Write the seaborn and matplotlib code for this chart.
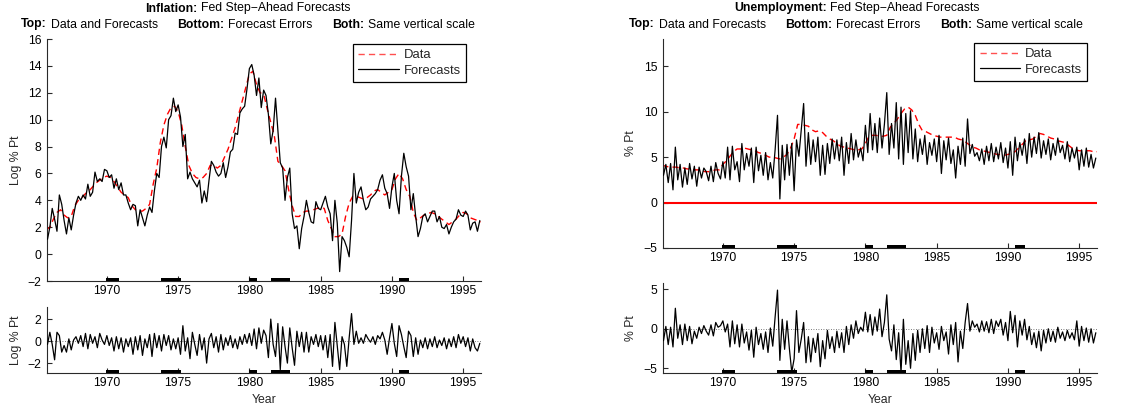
import numpy as np
import pandas as pd
import matplotlib
matplotlib.use("Agg")
import matplotlib.pyplot as plt
from matplotlib.lines import Line2D
import seaborn as sns

# ---------------- data ----------------
data_start = 1965.75          # quarterly data series
fc_start = 1965.0 + 10 / 12   # bimonthly forecasts / errors (Nov 1965)

infl_data = [1.8,
    2.0, 2.6, 3.1, 3.3,   2.9, 2.7, 2.8, 3.6,   4.0, 4.2, 4.5, 4.7,   5.0, 5.3, 5.5, 5.7,
    5.8, 5.7, 5.4, 5.0,   4.6, 4.4, 4.2, 3.6,   3.3, 3.2, 3.2, 3.4,   3.7, 5.2, 6.4, 8.3,
    9.6, 10.4, 10.9, 11.0, 10.6, 9.6, 8.0, 6.6,  6.0, 5.7, 5.6, 5.7,   6.0, 6.6, 6.6, 6.4,
    6.6, 7.2, 7.8, 8.6,   9.4, 10.4, 11.4, 12.4, 13.4, 13.6, 12.6, 12.0, 11.9, 10.8, 9.8, 8.8,
    6.9, 6.6, 6.2, 4.8,   3.6, 2.8, 2.8, 3.1,   3.2, 3.2, 3.3, 3.4,   3.5, 3.4, 2.5, 1.9,
    1.3, 1.3, 1.5, 2.8,   3.8, 4.3, 4.3, 4.2,   4.1, 4.2, 4.4, 4.7,   4.8, 4.6, 4.4, 4.6,
    4.8, 5.6, 6.0, 5.6,   4.8, 4.3, 3.1, 2.5,   2.7, 2.9, 3.0, 3.1,   3.0, 2.8, 2.6, 2.4,
    2.2, 2.4, 2.6, 2.9,   3.1, 3.0, 2.7, 2.6,   2.5, 2.4]

infl_fc = [1.1,
    2.0, 3.4, 2.6, 1.7, 4.4, 3.7,
    2.5, 1.5, 2.7, 1.8, 2.9, 3.8,
    4.3, 4.0, 4.4, 4.1, 5.2, 4.3,
    4.6, 6.1, 5.4, 5.6, 5.4, 6.3,
    6.2, 5.7, 5.9, 4.9, 5.6, 4.8,
    5.3, 4.4, 4.4, 3.8, 3.3, 3.7,
    3.6, 2.1, 3.3, 2.7, 2.1, 2.9,
    3.5, 3.1, 4.7, 6.0, 5.7, 8.0,
    8.7, 7.9, 10.0, 10.3, 11.6, 10.6,
    11.1, 10.2, 8.0, 8.9, 5.6, 6.1,
    5.6, 5.3, 5.0, 5.5, 3.8, 4.7,
    3.9, 5.5, 6.9, 6.6, 6.1, 5.8,
    6.0, 6.8, 5.7, 6.5, 7.6, 7.8,
    9.0, 8.9, 10.5, 10.8, 11.0, 12.3,
    13.8, 14.1, 13.3, 11.8, 13.1, 10.9,
    12.2, 11.8, 10.4, 8.2, 9.2, 11.6,
    9.2, 6.8, 6.4, 4.0, 5.7, 6.4,
    3.0, 1.9, 2.1, 0.4, 1.9, 2.8,
    4.0, 3.1, 2.4, 2.3, 3.9, 3.4,
    3.3, 3.8, 4.3, 3.5, 3.0, 1.0,
    4.0, 2.3, -1.3, 1.3, 1.0, 0.5,
    -0.2, 2.5, 6.0, 3.8, 4.6, 5.0,
    4.0, 3.3, 3.5, 4.1, 4.3, 4.5,
    4.8, 5.5, 5.9, 4.9, 4.5, 3.4,
    5.0, 6.0, 4.0, 3.0, 5.8, 7.5,
    6.5, 5.8, 3.3, 4.5, 2.8, 1.3,
    1.9, 2.8, 3.0, 2.4, 2.8, 3.2,
    3.2, 2.4, 2.8, 2.0, 1.9, 2.2,
    1.5, 2.0, 2.4, 2.6, 3.3, 2.9,
    2.8, 3.2, 2.9, 1.8, 2.3, 2.4,
    1.7, 2.5]

infl_err = [-0.3,
    0.8, -0.3, -1.7, 0.8, 0.5, -1.0,
    -0.4, -1.0, 0.2, -0.8, 0.1, 0.4,
    -0.2, 0.5, -0.5, 0.7, -0.7, 0.6,
    -0.2, 0.4, -0.6, 0.7, 0.1, -0.3,
    0.5, -0.4, 0.3, -0.9, 0.4, -0.7,
    0.3, -1.0, 0.2, -0.5, 0.3, -1.2,
    0.4, -0.8, 0.5, -1.3, 0.2, -0.6,
    0.6, -1.4, 0.7, -0.6, 0.5, -0.9,
    0.6, -0.4, 0.5, -0.8, 0.2, -0.7,
    0.3, -1.2, 1.4, -0.9, 0.3, -1.6,
    0.8, -0.3, -1.3, 0.6, -0.8, 0.3,
    -2.0, 0.2, 0.7, -0.6, 0.4, -1.0,
    0.6, -0.8, 0.3, -0.4, 0.5, -0.6,
    0.2, -0.7, 0.4, -0.3, 0.6, -0.2,
    0.7, -0.4, 1.1, -0.7, 1.2, -0.2,
    1.0, 0.5, -1.5, 2.0, -0.3, -1.4,
    1.6, -2.6, 1.3, -0.5, -2.0, 1.2,
    -0.6, -2.2, 0.9, -0.5, 0.8, -1.0,
    0.8, -1.0, 0.4, -0.3, 0.6, -0.5,
    0.5, -0.8, 0.5, -1.5, 0.6, -2.3,
    1.7, -0.5, -2.6, 0.4, -0.3, -2.3,
    0.3, 2.5, -0.3, 0.9, -0.2, 0.3,
    -0.2, 0.6, 0.2, -0.1, 0.4, -0.3,
    0.5, 0.2, 0.8, 0.1, -1.2, 0.3,
    1.6, -0.2, -1.4, 1.4, 0.6, -0.5,
    -1.5, 0.9, 0.5, -1.4, 0.3, -1.2,
    0.1, -0.6, 0.3, -0.7, 0.2, -0.5,
    0.4, -0.6, 0.1, -0.4, 0.3, -0.7,
    0.2, -0.5, 0.4, -0.6, 0.6, -0.2,
    0.4, -0.5, 0.3, -0.9, 0.2, -0.6,
    -0.9, -0.2]

unemp_data = [4.1,
    4.0, 3.9, 3.9, 3.9,   3.8, 3.8, 3.7, 3.7,   3.6, 3.6, 3.5, 3.4,   3.4, 3.5, 3.6, 3.6,
    4.2, 4.6, 5.1, 5.6,   5.9, 5.9, 6.0, 5.9,   5.8, 5.7, 5.5, 5.4,   5.2, 5.0, 5.0, 4.9,
    4.8, 5.0, 5.3, 6.0,   7.0, 8.6, 8.6, 8.5,   8.4, 8.0, 7.8, 7.9,   7.7, 7.3, 7.0, 6.8,
    6.5, 6.2, 6.1, 6.0,   5.9, 5.8, 5.8, 5.9,   6.5, 7.3, 7.4, 7.4,   7.3, 7.3, 7.4, 8.3,
    8.7, 9.2, 9.8, 10.3,  10.5, 10.2, 9.6, 8.6,  7.9, 7.8, 7.6, 7.4,   7.3, 7.2, 7.2, 7.2,
    7.2, 7.2, 7.0, 6.9,   6.7, 6.4, 6.1, 6.0,   5.8, 5.7, 5.6, 5.5,   5.4, 5.3, 5.3, 5.2,
    5.3, 5.4, 5.6, 6.0,   6.4, 6.8, 6.9, 7.0,   7.3, 7.6, 7.5, 7.3,   7.1, 7.0, 6.8, 6.7,
    6.6, 6.3, 6.0, 5.8,   5.7, 5.7, 5.7, 5.7,   5.6, 5.6]

unemp_fc = [3.0,
    4.2, 2.2, 4.3, 1.4, 6.1, 2.5,
    4.2, 1.7, 3.8, 2.0, 4.3, 2.6,
    4.0, 1.8, 3.9, 2.7, 3.8, 3.4,
    2.4, 4.0, 2.3, 4.4, 3.2, 2.6,
    4.5, 2.7, 6.1, 2.5, 6.2, 3.6,
    4.5, 2.3, 6.5, 3.6, 5.4, 4.0,
    6.0, 2.2, 6.1, 3.5, 5.2, 3.0,
    5.5, 2.5, 4.4, 2.7, 5.8, 9.6,
    0.4, 6.3, 2.5, 6.4, 3.0, 6.5,
    1.3, 6.9, 5.1, 8.0, 10.9, 4.0,
    7.7, 4.2, 6.9, 4.5, 7.2, 3.0,
    6.3, 3.1, 6.5, 4.3, 7.0, 4.8,
    6.9, 4.6, 7.2, 3.0, 6.6, 4.3,
    7.6, 4.7, 6.9, 5.0, 6.0, 4.6,
    8.5, 5.5, 9.8, 5.8, 8.7, 5.5,
    9.3, 6.0, 8.6, 12.1, 5.3, 8.7,
    6.0, 11.0, 4.8, 10.5, 4.2, 9.8,
    5.5, 10.1, 4.8, 8.1, 4.5, 7.0,
    5.3, 7.4, 4.2, 6.6, 5.2, 7.0,
    4.5, 7.4, 3.2, 6.8, 4.7, 7.1,
    4.3, 5.8, 2.7, 6.2, 4.2, 7.1,
    4.0, 9.2, 5.4, 6.4, 5.1, 5.5,
    4.6, 5.9, 4.2, 6.2, 4.6, 6.5,
    4.5, 6.1, 4.8, 6.6, 4.4, 6.0,
    3.8, 6.7, 3.0, 7.2, 4.6, 6.6,
    5.2, 7.0, 4.3, 7.6, 5.0, 7.2,
    5.4, 7.7, 4.9, 6.8, 5.3, 7.0,
    4.7, 6.5, 5.2, 7.1, 5.5, 6.3,
    4.8, 6.7, 4.5, 6.0, 4.9, 6.1,
    3.6, 5.8, 4.0, 6.0, 3.9, 5.3,
    3.8, 4.9]

unemp_err = [-1.5,
    0.3, -2.0, 0.2, -2.3, 2.6, -1.2,
    0.5, -2.0, 0.6, -1.5, 0.3, -1.9,
    -0.3, -1.2, 0.2, -0.6, 0.4, -0.3,
    -0.8, 0.5, -0.9, 0.8, 0.2, 0.4,
    1.0, -0.4, 0.6, -2.3, 1.0, -1.9,
    0.5, -2.3, 0.6, -1.8, -0.4, -2.7,
    -0.2, -3.6, 0.2, -2.0, -0.6, -2.6,
    -0.4, -3.0, 0.1, -2.2, 1.5, 4.9,
    -4.0, 1.2, -2.6, 1.0, -2.5, -5.5,
    -3.8, 2.3, -3.0, -1.3, 0.8, -4.3,
    -1.0, -4.2, -1.2, -3.0, -0.6, -4.8,
    -1.5, -3.8, -0.2, -2.5, -1.0, -3.0,
    -0.3, -2.4, -0.5, -3.0, 0.3, -2.0,
    0.5, -1.2, 1.0, -0.6, 0.2, -0.3,
    2.1, -0.4, 1.8, -0.8, 1.5, -0.3,
    2.5, -1.0, 0.8, 4.3, -1.3, -2.8,
    0.5, -3.9, -0.5, -5.5, 1.2, -4.5,
    -1.5, -5.0, -0.6, -4.0, -0.2, -3.0,
    0.0, -2.5, 0.4, -3.0, 0.2, -1.8,
    -0.5, -2.6, 0.3, -1.5, -0.4, -3.2,
    0.5, -2.0, 0.8, -4.2, -0.3, -2.5,
    0.8, 3.2, -0.3, 1.0, 0.2, 0.6,
    -0.4, 1.0, -0.3, 0.9, -0.5, 1.2,
    -0.6, 1.0, 0.3, 1.2, -0.8, 0.8,
    -1.5, 2.2, -0.5, 1.7, -2.3, 1.0,
    -0.8, 1.2, -1.4, 0.3, -2.0, -0.5,
    -2.4, -0.3, -2.8, -0.2, -1.8, 0.0,
    -1.6, -0.3, -1.7, 0.2, -1.2, -0.4,
    -1.5, -0.2, -1.2, -0.5, -1.4, 1.0,
    -2.2, 0.3, -1.5, 0.1, -1.7, 0.0,
    -1.8, -0.5]

recessions = [(1969.92, 1970.83), (1973.83, 1975.17), (1980.0, 1980.5),
              (1981.5, 1982.83), (1990.5, 1991.17)]
year_ticks = [1970, 1975, 1980, 1985, 1990, 1995]

infl_top_ticks = [-2, 0, 2, 4, 6, 8, 10, 12, 14, 16]
infl_bot_ticks = [-2, 0, 2]
unemp_top_ticks = [-5, 0, 5, 10, 15]
unemp_bot_ticks = [-5, 0, 5]

left_title = [("Inflation:", True), ("Fed Step\u2212Ahead Forecasts", False)]
right_title = [("Unemployment:", True), ("Fed Step\u2212Ahead Forecasts", False)]
subtitle = [("Top:", True), ("Data and Forecasts", False), ("Bottom:", True),
            ("Forecast Errors", False), ("Both:", True), ("Same vertical scale", False)]

for arr in (infl_fc, infl_err, unemp_fc, unemp_err):
    assert len(arr) == 183, len(arr)
assert len(infl_data) == 123 and len(unemp_data) == 123

def frame(start, vals, per_year):
    return pd.DataFrame({"year": start + np.arange(len(vals)) / per_year, "v": vals})

# ---------------- style ----------------
sns.set_theme(style="white")
plt.rcParams["font.family"] = ["Liberation Sans", "DejaVu Sans"]
FS = 8.8
SPINE = "#2a2a2a"

W, H = 1127, 412
fig = plt.figure(figsize=(W / 100, H / 100), dpi=100)

def px_axes(l, t, r, b):
    return fig.add_axes([l / W, 1 - b / H, (r - l) / W, (b - t) / H])

def style(ax, ylim, yticks, h_px):
    ax.set_xlim(1965.8, 1996.25)
    ax.set_ylim(*ylim)
    ax.set_xticks(year_ticks)
    ax.set_yticks(yticks)
    for s in ("top", "right"):
        ax.spines[s].set_visible(False)
    for s in ("left", "bottom"):
        ax.spines[s].set_color(SPINE)
        ax.spines[s].set_linewidth(0.8)
    ax.tick_params(direction="in", length=3.5, width=0.8, colors=SPINE,
                   labelcolor="black", labelsize=FS, pad=3,
                   left=True, bottom=True)
    ax.tick_params(axis="y", pad=4)
    for a, b in recessions:
        ax.axvspan(a, b, ymin=0, ymax=3.0 / h_px, color="black", lw=0, zorder=5)
    ax.set_xlabel("")
    ax.set_ylabel("")

RED = "#ff0000"
dash = (0, (4.5, 3))

def add_legend(ax, anchor):
    handles = [Line2D([], [], color="#ff5050", ls=dash, lw=1.0),
               Line2D([], [], color="black", lw=0.9)]
    leg = ax.legend(handles, ["Data", "Forecasts"], loc="upper right",
                    bbox_to_anchor=anchor, fontsize=9.4, frameon=True,
                    fancybox=False, framealpha=1, edgecolor="black",
                    handlelength=3.1, handletextpad=0.35, borderpad=0.4,
                    labelspacing=0.25, borderaxespad=0)
    leg.get_frame().set_linewidth(0.9)

# ----- Inflation top -----
ax1 = px_axes(47, 39, 481, 281)
sns.lineplot(data=frame(data_start, infl_data, 4), x="year", y="v", ax=ax1,
             color=RED, linestyle=dash, linewidth=1.0, errorbar=None, zorder=2)
sns.lineplot(data=frame(fc_start, infl_fc, 6), x="year", y="v", ax=ax1,
             color="black", linewidth=0.9, errorbar=None, zorder=3)
style(ax1, (-2, 16), infl_top_ticks, 242)
ax1.set_ylabel("Log % Pt", fontsize=FS)
ax1.yaxis.set_label_coords(-0.058, 0.5)
add_legend(ax1, (0.965, 0.979))

# ----- Inflation bottom -----
ax2 = px_axes(47, 307, 481, 373)
ax2.axhline(0, color="#555555", ls=(0, (1, 2)), lw=0.6, zorder=1)
sns.lineplot(data=frame(fc_start, infl_err, 6), x="year", y="v", ax=ax2,
             color="black", linewidth=0.9, errorbar=None, zorder=3)
style(ax2, (-2.9, 3.1), infl_bot_ticks, 66)
ax2.set_ylabel("Log % Pt", fontsize=FS)
ax2.yaxis.set_label_coords(-0.058, 0.5)
ax2.set_xlabel("Year", fontsize=FS)
ax2.xaxis.set_label_coords(0.5, -(394 - 373) / 66)

# ----- Unemployment top -----
ax3 = px_axes(663, 39, 1097, 248)
ax3.axhline(0, color=RED, lw=1.5, zorder=1)
sns.lineplot(data=frame(data_start, unemp_data, 4), x="year", y="v", ax=ax3,
             color=RED, linestyle=dash, linewidth=1.0, errorbar=None, zorder=2)
sns.lineplot(data=frame(fc_start, unemp_fc, 6), x="year", y="v", ax=ax3,
             color="black", linewidth=0.9, errorbar=None, zorder=3)
style(ax3, (-5, 18), unemp_top_ticks, 209)
ax3.set_ylabel("% Pt", fontsize=FS)
ax3.yaxis.set_label_coords(-0.06, 0.5)
add_legend(ax3, (0.977, 0.981))

# ----- Unemployment bottom -----
ax4 = px_axes(663, 283, 1097, 373)
ax4.axhline(0, color="#555555", ls=(0, (1, 2)), lw=0.6, zorder=1)
sns.lineplot(data=frame(fc_start, unemp_err, 6), x="year", y="v", ax=ax4,
             color="black", linewidth=0.9, errorbar=None, zorder=3)
style(ax4, (-5.6, 5.8), unemp_bot_ticks, 90)
ax4.set_ylabel("% Pt", fontsize=FS)
ax4.yaxis.set_label_coords(-0.06, 0.5)
ax4.set_xlabel("Year", fontsize=FS)
ax4.xaxis.set_label_coords(0.5, -(394 - 373) / 90)

# ----- titles (pieces with mixed weights, chained and centred) -----
renderer = fig.canvas.get_renderer()

def put_line(pieces, gaps, center_px, y_px):
    texts, widths = [], []
    for txt, bold in pieces:
        t = fig.text(0, 1 - y_px / H, txt, ha="left", va="center", fontsize=FS,
                     fontweight="bold" if bold else "normal", color="black")
        texts.append(t)
        widths.append(t.get_window_extent(renderer=renderer).width)
    total = sum(widths) + sum(gaps[:-1])
    x = center_px - total / 2
    for t, w, g in zip(texts, widths, gaps):
        t.set_x(x / W)
        x += w + g

put_line(left_title, [3, 0], 248, 8.5)
put_line(right_title, [3, 0], 857, 8.5)
put_line(subtitle, [4, 19, 4, 19, 4, 0], 248, 24.5)
put_line(subtitle, [4, 19, 4, 19, 4, 0], 856, 24.5)

fig.savefig("out.png", dpi=100)
